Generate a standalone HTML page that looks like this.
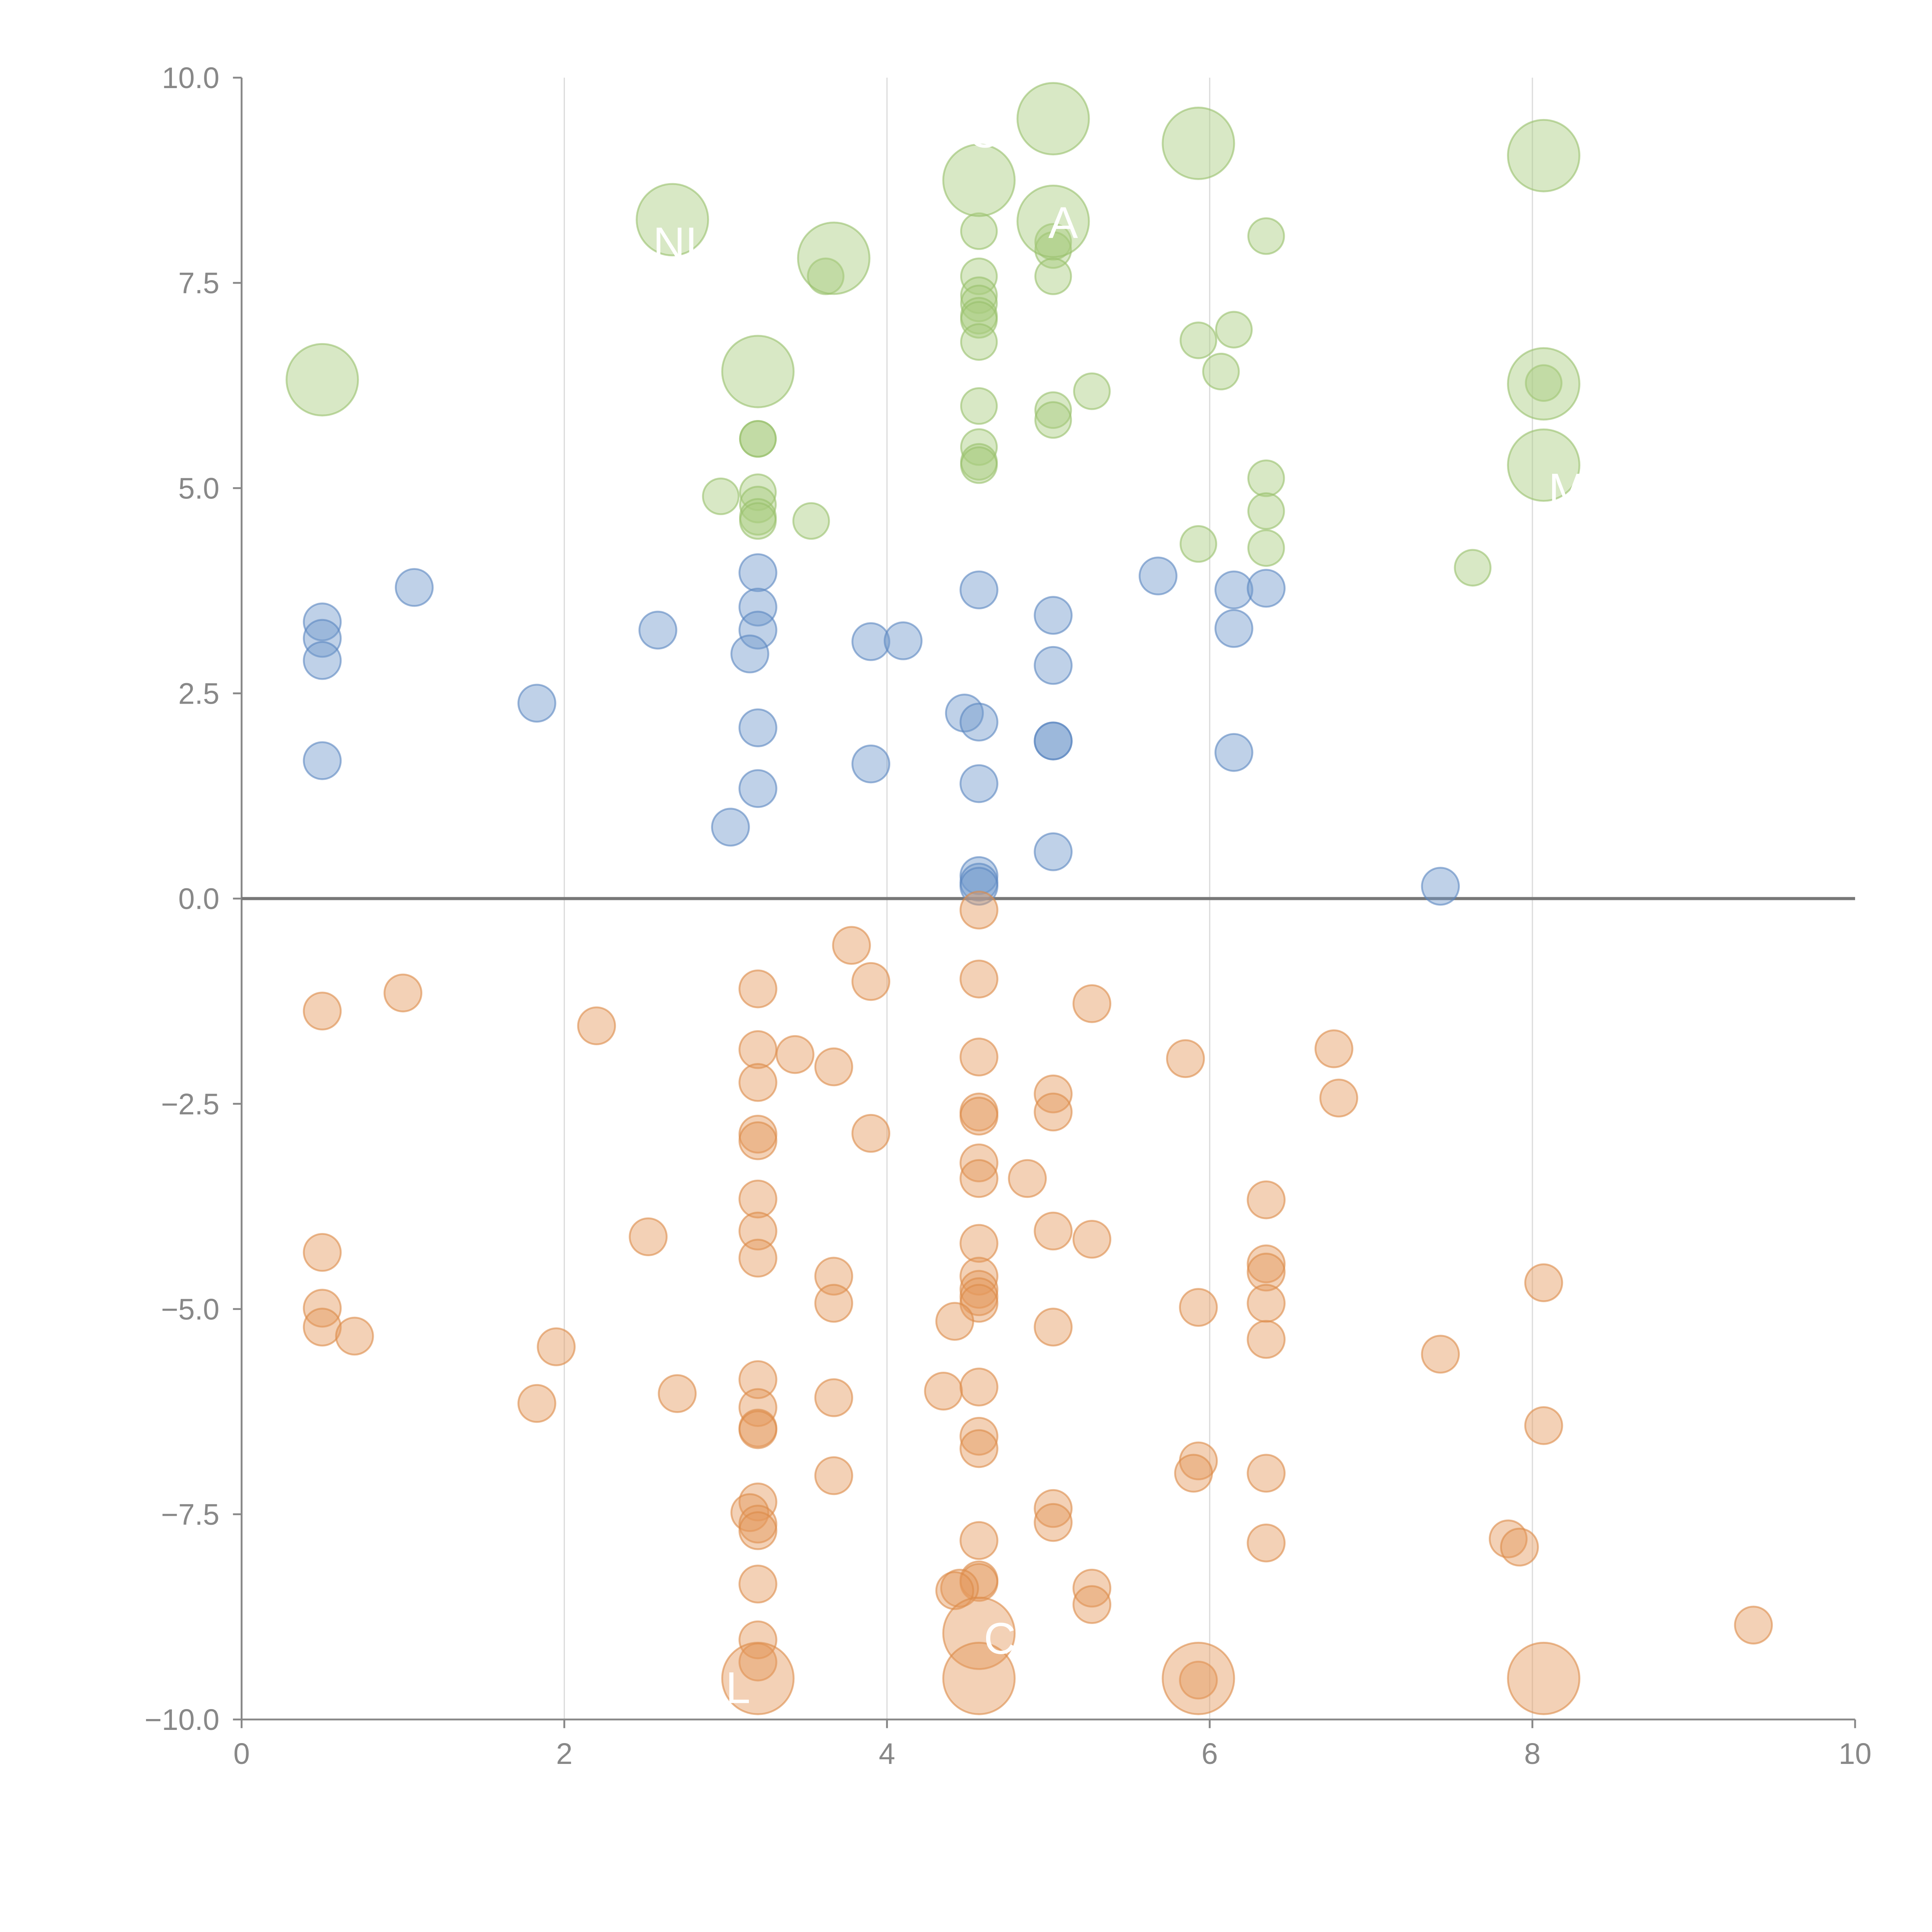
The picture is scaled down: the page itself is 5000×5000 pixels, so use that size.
<!DOCTYPE html>
<html><head><meta charset="utf-8"><style>
html,body{margin:0;padding:0;background:#fff}
svg{display:block}
text{font-family:"Liberation Sans",sans-serif}
</style></head><body>
<svg id="chart" width="5000" height="5000" viewBox="0 0 1567.4 1567.4" xmlns="http://www.w3.org/2000/svg">
<g id="grid"></g>
<g id="axes"></g>
<g id="marks"></g>
<g id="labels"></g>
</svg>
<script>
const xTicks=[0,2,4,6,8,10];
const xTickLabels=["0","2","4","6","8","10"];
const yTicks=[10,7.5,5,2.5,0,-2.5,-5,-7.5,-10];
const yTickLabels=["10.0","7.5","5.0","2.5","0.0","\u22122.5","\u22125.0","\u22127.5","\u221210.0"];
const greenSmallX=[2.97,3.2,3.2,3.2,3.2,3.2,3.2,3.53,3.62,4.57,4.57,4.57,4.57,4.57,4.57,4.57,4.57,4.57,4.57,4.57,5.03,5.03,5.03,5.03,5.03,5.27,5.93,6.15,6.07,6.35,5.93,6.35,6.35,6.35,7.63,8.07];
const greenSmallY=[4.9,5.6,5.6,4.95,4.8,4.65,4.6,4.6,7.58,8.13,7.58,7.35,7.25,7.1,7.05,6.78,6.0,5.5,5.32,5.28,8.0,7.9,7.58,5.95,5.83,6.18,6.8,6.93,6.42,8.07,4.32,5.12,4.72,4.27,4.03,6.28];
const greenBigX=[0.5,2.67,3.67,3.2,4.57,5.03,5.03,5.93,8.07,8.07,8.07];
const greenBigY=[6.32,8.27,7.8,6.42,8.75,9.5,8.25,9.2,9.05,6.27,5.28];
const blueX=[0.5,0.5,0.5,0.5,1.07,1.83,2.58,3.2,3.2,3.2,3.15,3.2,3.2,3.03,3.9,4.1,3.9,4.48,4.57,4.57,4.57,4.57,4.57,4.57,5.03,5.03,5.03,5.03,5.03,5.68,6.15,6.15,6.15,6.35,7.43];
const blueY=[3.37,3.17,2.9,1.68,3.79,2.38,3.27,3.97,3.55,3.27,2.98,2.08,1.34,0.87,3.13,3.14,1.64,2.26,2.15,3.76,1.4,0.28,0.2,0.15,3.45,2.84,1.92,1.92,0.57,3.93,3.76,3.29,1.78,3.78,0.15];
const orangeX=[0.5,1.0,2.2,0.5,0.5,0.5,0.7,1.95,1.83,2.52,2.7,3.2,3.2,3.2,3.43,3.67,3.2,3.2,3.2,3.2,3.2,3.2,3.2,3.2,3.2,3.2,3.15,3.2,3.2,3.2,3.2,3.2,3.78,3.9,3.9,3.67,3.67,3.67,3.67,4.57,4.57,4.57,4.57,4.57,4.57,4.57,4.87,4.57,4.57,4.57,4.57,4.57,4.42,4.35,4.57,4.57,4.57,4.57,4.57,4.57,4.45,4.42,5.27,5.03,5.03,5.03,5.27,5.03,5.03,5.03,5.27,5.27,5.85,5.93,5.93,5.9,6.35,6.35,6.35,6.35,6.35,6.35,6.35,6.77,6.8,7.43,8.07,8.07,7.85,7.92,9.37,5.93];
const orangeY=[-1.37,-1.15,-1.55,-4.31,-4.99,-5.22,-5.33,-5.46,-6.15,-4.12,-6.03,-1.1,-1.84,-2.24,-1.9,-2.05,-2.87,-2.95,-3.66,-4.05,-4.38,-5.86,-6.2,-6.45,-6.47,-7.35,-7.48,-7.62,-7.7,-8.35,-9.03,-9.3,-0.57,-1.01,-2.86,-4.6,-4.93,-6.08,-7.03,-0.14,-0.98,-1.93,-2.6,-2.65,-3.22,-3.41,-3.41,-4.2,-4.6,-4.76,-4.85,-4.93,-5.15,-6.0,-5.95,-6.55,-6.7,-7.82,-8.3,-8.33,-8.4,-8.43,-1.28,-2.38,-2.6,-4.05,-4.15,-5.22,-7.43,-7.6,-8.4,-8.6,-1.95,-4.98,-6.85,-7.0,-3.67,-4.45,-4.55,-4.93,-5.37,-7.0,-7.85,-1.83,-2.43,-5.55,-4.68,-6.42,-7.8,-7.9,-8.85,-9.52];
const orangeBigX=[3.2,4.57,4.57,5.93,8.07];
const orangeBigY=[-9.5,-8.95,-9.5,-9.5,-9.5];
const bubbleLabelText=["NI","O","A","C","L","M"];
const bubbleLabelX=[2.55,4.5,5.0,4.6,3.0,8.1];
const bubbleLabelY=[7.8,9.15,8.05,-9.2,-9.8,4.8];

const NS="http://www.w3.org/2000/svg";
const X0=196,X1=1505,Y0=1395,Y1=63;
const sx=v=>X0+(v-0)/(10-0)*(X1-X0);
const sy=v=>Y0-(v+10)/20*(Y0-Y1);
function mk(tag,attrs,parent){const e=document.createElementNS(NS,tag);for(const k in attrs)e.setAttribute(k,attrs[k]);parent.appendChild(e);return e;}
const grid=document.getElementById('grid'),axes=document.getElementById('axes'),marks=document.getElementById('marks'),labels=document.getElementById('labels');
xTicks.forEach((t,i)=>{
  if(t>0&&t<10){const g=mk('line',{x1:sx(t),x2:sx(t),y1:Y1,y2:Y0,stroke:'#dcdcdc','stroke-width':1},grid);
  
  }
  const tk=mk('line',{x1:sx(t),x2:sx(t),y1:Y0,y2:Y0+7,stroke:'#888','stroke-width':1.5},axes);
  
  
  const tx=mk('text',{x:sx(t),y:Y0+36,'text-anchor':'middle','font-size':24,fill:'#888'},axes);
  tx.textContent=xTickLabels[i];
  
  
});
yTicks.forEach((t,i)=>{
  const tk=mk('line',{x1:X0-7,x2:X0,y1:sy(t),y2:sy(t),stroke:'#888','stroke-width':1.5},axes);
  
  
  const tx=mk('text',{x:X0-18,y:sy(t)+8.5,'text-anchor':'end','font-size':24,fill:'#888'},axes);
  tx.textContent=yTickLabels[i];
  
  
});
const ya=mk('line',{x1:X0,x2:X0,y1:Y1,y2:Y0,stroke:'#888','stroke-width':1.5},axes);


const xa=mk('line',{x1:X0,x2:X1,y1:Y0,y2:Y0,stroke:'#888','stroke-width':1.5},axes);


const zl=mk('line',{x1:X0,x2:X1,y1:sy(0),y2:sy(0),stroke:'#777','stroke-width':2.5},axes);



function series(xs,ys,r,fill,stroke,name){
  xs.forEach((x,i)=>{
    const c=mk('circle',{cx:sx(x),cy:sy(ys[i]),r:r,fill:fill,'fill-opacity':0.45,stroke:stroke,'stroke-opacity':0.6,'stroke-width':1.5},marks);
    
    
  });
}
series(blueX,blueY,15,'#7098cc','#5a86c0','bubble-blue');
series(greenSmallX,greenSmallY,14.5,'#a9cb7f','#97bf6a','bubble-green');
series(greenBigX,greenBigY,29,'#a9cb7f','#97bf6a','bubble-green-large');
series(orangeX,orangeY,15,'#e59a5e','#dc8a48','bubble-orange');
series(orangeBigX,orangeBigY,29,'#e59a5e','#dc8a48','bubble-orange-large');

bubbleLabelText.forEach((s,i)=>{
  const t=mk('text',{x:sx(bubbleLabelX[i]),y:sy(bubbleLabelY[i]),'font-size':36,fill:'#fff'},labels);
  t.textContent=s;
  
  
});
</script>
</body></html>
